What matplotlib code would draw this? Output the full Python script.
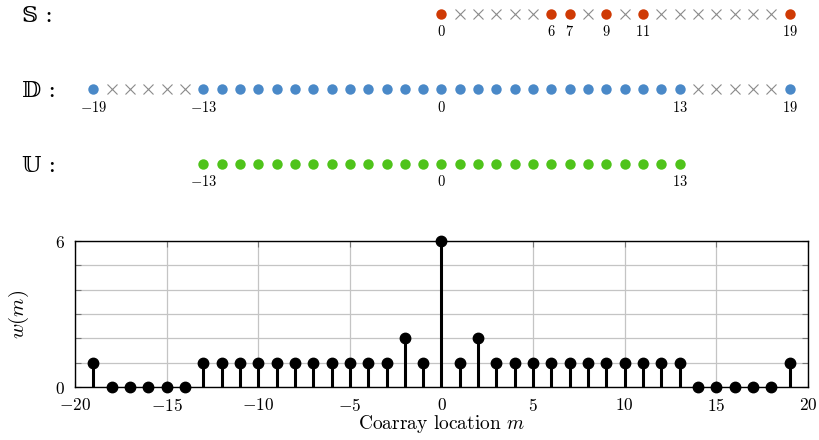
import matplotlib
matplotlib.use("Agg")
import matplotlib.pyplot as plt
from matplotlib.ticker import FixedLocator, NullFormatter

plt.rcParams['mathtext.fontset'] = 'cm'
plt.rcParams['font.family'] = ['cmr10', 'DejaVu Serif']
plt.rcParams['axes.unicode_minus'] = False

# ---- data ----
S_present = [0, 6, 7, 9, 11, 19]
S_absent = [1, 2, 3, 4, 5, 8, 10, 12, 13, 14, 15, 16, 17, 18]
S_labels = [0, 6, 7, 9, 11, 19]

D_present = [-19, -13, -12, -11, -10, -9, -8, -7, -6, -5, -4, -3, -2, -1, 0,
             1, 2, 3, 4, 5, 6, 7, 8, 9, 10, 11, 12, 13, 19]
D_absent = [-18, -17, -16, -15, -14, 14, 15, 16, 17, 18]
D_labels = [-19, -13, 0, 13, 19]

U_present = [-13, -12, -11, -10, -9, -8, -7, -6, -5, -4, -3, -2, -1, 0,
             1, 2, 3, 4, 5, 6, 7, 8, 9, 10, 11, 12, 13]
U_labels = [-13, 0, 13]

m_vals = [-19, -18, -17, -16, -15, -14, -13, -12, -11, -10, -9, -8, -7, -6, -5,
          -4, -3, -2, -1, 0, 1, 2, 3, 4, 5, 6, 7, 8, 9, 10, 11, 12, 13, 14, 15,
          16, 17, 18, 19]
w_vals = [1, 0, 0, 0, 0, 0, 1, 1, 1, 1, 1, 1, 1, 1, 1,
          1, 1, 2, 1, 6, 1, 2, 1, 1, 1, 1, 1, 1, 1, 1, 1, 1, 1, 0, 0,
          0, 0, 0, 1]

x_ticks = [-20, -15, -10, -5, 0, 5, 10, 15, 20]

RED = '#cf3a04'
BLUE = '#4a89c8'
GREEN = '#4fc31b'
GRAY = '#8a8a8a'

W, H = 820, 440
fig = plt.figure(figsize=(W / 100, H / 100), dpi=100)

L, R, T, B = 75, 808, 241, 387
ax = fig.add_axes([L / W, 1 - B / H, (R - L) / W, (B - T) / H])

ax.set_xlim(-20, 20)
ax.set_ylim(0, 6)
ax.set_xticks(x_ticks)
ax.set_xticklabels([f'${v}$' for v in x_ticks])
ax.set_yticks([0, 6])
ax.set_yticklabels(['$0$', '$6$'])
ax.yaxis.set_minor_locator(FixedLocator([1, 2, 3, 4, 5]))
ax.yaxis.set_minor_formatter(NullFormatter())
ax.grid(True, which='both', color='#c4c4c4', lw=0.9)
ax.set_axisbelow(True)
ax.tick_params(which='both', direction='in', top=True, right=True,
               length=4, width=0.8, color='#777777', labelsize=12.5)
ax.tick_params(axis='x', pad=7.5)
ax.tick_params(axis='y', pad=7)
for sp in ax.spines.values():
    sp.set_linewidth(1.0)
    sp.set_color('black')

ml, sl, bl = ax.stem(m_vals, w_vals, linefmt='k-', markerfmt='ko', basefmt=' ')
ml.set_markersize(7.5)
ml.set_clip_on(False)
ml.set_zorder(5)
sl.set_linewidth(2.2)
sl.set_clip_on(False)

ax.set_xlabel(r'Coarray location $m$', fontsize=14, labelpad=-1)
ax.set_ylabel(r'$w(m)$', fontsize=15)
ax.yaxis.set_label_coords((31 - L) / (R - L), 0.5)

# ---- top rows ----
axt = fig.add_axes([L / W, 0, (R - L) / W, 1])
axt.set_xlim(-20, 20)
axt.set_ylim(H, 0)
axt.axis('off')

rows = [
    (14, S_present, S_absent, S_labels, RED, '\U0001D54A :'),
    (89, D_present, D_absent, D_labels, BLUE, '\U0001D53B :'),
    (164, U_present, [], U_labels, GREEN, '\U0001D54C :'),
]
for y, pres, absn, labs, col, name in rows:
    axt.plot(pres, [y] * len(pres), 'o', color=col, ms=7.5, mec='none', clip_on=False)
    if absn:
        axt.plot(absn, [y] * len(absn), 'x', color=GRAY, ms=7, mew=0.8, clip_on=False)
    for v in labs:
        axt.text(v, y + 18, f'${v}$', ha='center', va='center', fontsize=10.5)
    fig.text(22 / W, 1 - (y + 2) / H, name, ha='left', va='center', fontsize=16,
             family=['DejaVu Serif', 'DejaVu Sans'])

fig.savefig('out.png', dpi=100)
